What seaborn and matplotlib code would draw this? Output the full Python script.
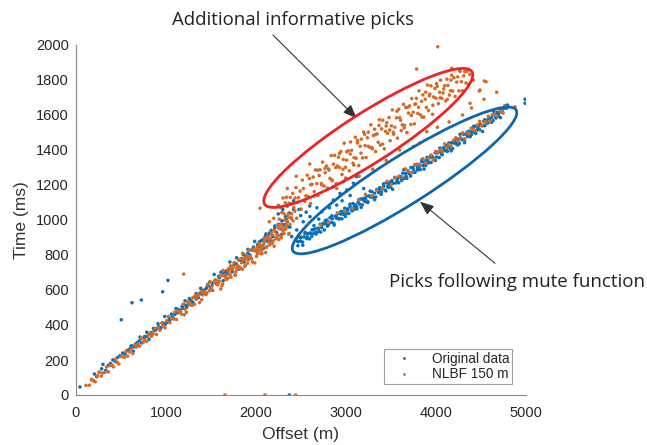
import numpy as np
import pandas as pd
import matplotlib
matplotlib.use("Agg")
import matplotlib.pyplot as plt
import seaborn as sns
from matplotlib.patches import Ellipse, FancyArrowPatch

# ---------------- data (offset m, time ms) ----------------
orig_trend = [
    (44, 46), (175, 86), (205, 120), (230, 105), (260, 130), (285, 150), (300, 175), (330, 140),
    (360, 170), (385, 180), (410, 200), (440, 190), (465, 215), (490, 225), (520, 240), (545, 235),
    (570, 255), (600, 265), (625, 280), (650, 275), (680, 300), (705, 310), (730, 300), (760, 325),
    (790, 335), (820, 350), (845, 345), (870, 370), (895, 380), (920, 390), (945, 385), (970, 410),
    (995, 405), (1020, 420), (1045, 430), (1070, 445), (1100, 460), (1130, 470), (1155, 485),
    (1180, 505), (1205, 515), (1230, 500), (1255, 525), (1280, 540), (1300, 530), (1325, 555),
    (1350, 565), (1375, 580), (1400, 575), (1425, 600), (1450, 610), (1470, 625), (1495, 615),
    (1520, 640), (1545, 655), (1570, 645), (1595, 670), (1620, 685), (1645, 695), (1665, 680),
    (1690, 710), (1710, 720), (1735, 715), (1755, 740), (1780, 750), (1800, 735), (1825, 770),
    (1850, 780), (1870, 760), (1890, 795), (1910, 810), (1935, 800), (1955, 830), (1975, 845),
    (2000, 825), (2020, 860), (2040, 875), (2060, 850), (2085, 890), (2105, 905), (2125, 880),
    (2150, 925), (2170, 940), (2190, 910), (2210, 955), (2230, 930), (2250, 975), (2270, 950),
    (2290, 995), (2310, 970), (2330, 1020), (2350, 990), (2370, 1040), (2395, 1010), (2420, 1060),
]
orig_trend_extra = [
    (612, 280), (637, 250), (662, 290), (687, 284), (712, 331), (737, 298), (762, 334), (787, 359),
    (812, 318), (837, 357), (862, 381), (887, 372), (912, 407), (937, 377), (962, 411), (987, 449),
    (1012, 416), (1037, 436), (1062, 462), (1087, 436), (1112, 494), (1137, 489), (1162, 475),
    (1187, 495), (1212, 538), (1237, 511), (1262, 551), (1287, 516), (1312, 558), (1337, 579),
    (1362, 556), (1387, 610), (1412, 595), (1437, 583), (1462, 627), (1487, 645), (1512, 623),
    (1537, 689), (1562, 635), (1587, 678), (1612, 702), (1637, 653), (1662, 707), (1687, 694),
    (1712, 760), (1737, 704), (1762, 754), (1787, 784), (1812, 719), (1837, 772), (1862, 803),
    (1887, 784), (1912, 832), (1937, 782), (1962, 828), (1987, 878), (2012, 823), (2037, 850),
    (2062, 882), (2087, 838), (2112, 920), (2137, 908), (2162, 882), (2187, 905), (2212, 966),
    (2237, 920), (2262, 974), (2287, 918), (2312, 974), (2337, 1002), (2362, 961), (2387, 1037),
]
orig_outliers = [
    (504, 430), (623, 527), (727, 543), (964, 590), (1023, 655), (2373, 0), (4995, 1690), (4995, 1667),
]
orig_between = [
    (2399, 905), (2455, 943), (2528, 990), (2603, 1019), (2640, 943), (2733, 1047), (2788, 1000),
    (2862, 1114), (2937, 1152), (3011, 1171), (3085, 1210), (3122, 1248), (2560, 1045), (2680, 1070),
    (2350, 1080), (2420, 1110), (2480, 1060), (2700, 1005), (2820, 1070), (2900, 1085), (2250, 1035),
    (2300, 1060), (2380, 960), (2500, 1025), (3050, 1140), (3200, 1180), (2960, 1110), (2600, 1080),
    (2862, 1190), (2973, 1219),
]
orig_mute = [
    (2455, 881), (2468, 853), (2482, 904), (2497, 879), (2506, 902), (2521, 874), (2538, 903),
    (2549, 929), (2566, 894), (2580, 922), (2598, 892), (2611, 924), (2625, 944), (2643, 922),
    (2656, 949), (2672, 920), (2689, 953), (2701, 934), (2717, 976), (2734, 956), (2748, 976),
    (2763, 943), (2779, 979), (2792, 995), (2808, 973), (2825, 1013), (2839, 986), (2852, 1007),
    (2868, 982), (2884, 1022), (2897, 1010), (2913, 1037), (2930, 1007), (2944, 1034), (2958, 1007),
    (2975, 1050), (2989, 1067), (3004, 1036), (3018, 1055), (3035, 1037), (3049, 1077), (3063, 1059),
    (3080, 1094), (3094, 1061), (3107, 1087), (3124, 1063), (3139, 1101), (3153, 1091), (3169, 1120),
    (3184, 1087), (3198, 1114), (3215, 1105), (3229, 1136), (3244, 1100), (3258, 1138), (3275, 1132),
    (3289, 1162), (3303, 1129), (3320, 1154), (3334, 1132), (3349, 1172), (3365, 1157), (3378, 1185),
    (3394, 1147), (3410, 1179), (3423, 1193), (3439, 1170), (3455, 1213), (3470, 1187), (3484, 1209),
    (3500, 1187), (3514, 1225), (3530, 1210), (3545, 1243), (3559, 1212), (3575, 1234), (3590, 1213),
    (3604, 1250), (3620, 1241), (3635, 1268), (3649, 1237), (3665, 1266), (3680, 1238), (3694, 1281),
    (3709, 1265), (3725, 1300), (3740, 1271), (3754, 1290), (3770, 1272), (3785, 1313), (3799, 1297),
    (3815, 1316), (3830, 1288), (3845, 1334), (3860, 1311), (3874, 1330), (3890, 1312), (3905, 1358),
    (3919, 1333), (3935, 1357), (3950, 1329), (3964, 1362), (3980, 1345), (3995, 1384), (4009, 1360),
    (4024, 1388), (4040, 1357), (4054, 1388), (4070, 1375), (4085, 1412), (4099, 1396), (4115, 1426),
    (4130, 1392), (4144, 1422), (4160, 1409), (4175, 1441), (4189, 1408), (4205, 1439), (4220, 1459),
    (4234, 1433), (4250, 1461), (4265, 1437), (4279, 1467), (4295, 1459), (4310, 1490), (4324, 1460),
    (4340, 1490), (4355, 1477), (4369, 1507), (4385, 1476), (4400, 1504), (4414, 1520), (4430, 1500),
    (4445, 1537), (4459, 1514), (4475, 1537), (4490, 1516), (4504, 1542), (4520, 1538), (4535, 1565),
    (4549, 1539), (4565, 1569), (4580, 1554), (4594, 1582), (4610, 1562), (4625, 1586), (4639, 1568),
    (4655, 1601), (4670, 1588), (4684, 1615), (4700, 1594), (4715, 1618), (4729, 1637), (4745, 1615),
    (4760, 1637), (4774, 1654), (4790, 1639), (4800, 1657),
]
orig_mute_extra = [
    (2472, 876), (2497, 898), (2522, 856), (2547, 922), (2572, 904), (2597, 925), (2622, 906),
    (2647, 968), (2672, 930), (2697, 951), (2722, 931), (2747, 980), (2772, 996), (2797, 965),
    (2822, 986), (2847, 1024), (2872, 971), (2897, 1020), (2922, 1006), (2947, 1049), (2972, 1033),
    (2997, 1020), (3022, 1064), (3047, 1090), (3072, 1052), (3097, 1078), (3122, 1075), (3147, 1117),
    (3172, 1072), (3197, 1123), (3222, 1120), (3247, 1104), (3272, 1165), (3297, 1134), (3322, 1116),
    (3347, 1174), (3372, 1174), (3397, 1160), (3422, 1207), (3447, 1166), (3472, 1196), (3497, 1218),
    (3522, 1176), (3547, 1242), (3572, 1224), (3597, 1245), (3622, 1226), (3647, 1288), (3672, 1250),
    (3697, 1271), (3722, 1251), (3747, 1300), (3772, 1316), (3797, 1285), (3822, 1306), (3847, 1344),
    (3872, 1291), (3897, 1340), (3922, 1326), (3947, 1369), (3972, 1353), (3997, 1340), (4022, 1384),
    (4047, 1411), (4072, 1373), (4097, 1400), (4122, 1397), (4147, 1440), (4172, 1395), (4197, 1447),
    (4222, 1444), (4247, 1429), (4272, 1490), (4297, 1460), (4322, 1442), (4347, 1501), (4372, 1501),
    (4397, 1488), (4422, 1535), (4447, 1495), (4472, 1525), (4497, 1548), (4522, 1506), (4547, 1573),
    (4572, 1555), (4597, 1577), (4622, 1558), (4647, 1621), (4672, 1583), (4697, 1605), (4722, 1585),
    (4747, 1635), (4772, 1651),
]

nlbf_trend = [
    (110, 55), (148, 56), (172, 89), (196, 82), (214, 76), (239, 110), (258, 130), (281, 108),
    (297, 126), (322, 129), (340, 160), (361, 132), (379, 168), (402, 171), (418, 161), (441, 206),
    (459, 187), (477, 177), (500, 220), (516, 221), (538, 215), (557, 249), (574, 222), (596, 246),
    (615, 263), (633, 237), (651, 284), (672, 274), (690, 291), (708, 280), (729, 324), (747, 301),
    (763, 316), (786, 306), (802, 341), (821, 354), (840, 335), (858, 351), (877, 379), (895, 346),
    (917, 383), (933, 370), (954, 411), (971, 395), (990, 384), (1008, 424), (1027, 449), (1044, 413),
    (1063, 437), (1081, 435), (1099, 474), (1118, 431), (1135, 479), (1156, 477), (1172, 462),
    (1190, 518), (1211, 490), (1228, 473), (1246, 527), (1263, 527), (1284, 514), (1301, 557),
    (1319, 518), (1338, 547), (1356, 567), (1374, 528), (1393, 590), (1410, 572), (1430, 592),
    (1447, 574), (1466, 633), (1484, 596), (1503, 617), (1521, 597), (1540, 644), (1557, 658),
    (1576, 629), (1594, 650), (1613, 685), (1631, 635),
    (1650, 683), (1668, 664), (1687, 715), (1705, 692), (1724, 673), (1741, 725), (1760, 756),
    (1779, 705), (1797, 735), (1815, 729), (1834, 780), (1852, 719), (1871, 782), (1888, 776),
    (1907, 752), (1925, 827), (1944, 784), (1962, 760), (1981, 830), (1999, 828), (2018, 807),
    (2036, 864), (2055, 808), (2073, 845), (2092, 869), (2110, 814), (2129, 896), (2147, 869),
    (2166, 893), (2184, 867), (2203, 943), (2221, 892), (2240, 916), (2258, 888), (2277, 948),
    (2295, 965), (2314, 923), (2332, 948), (2351, 993), (2370, 923),
]
nlbf_trend_extra = [
    (1205, 458), (1238, 536), (1270, 517), (1296, 514), (1327, 568), (1362, 575), (1398, 544),
    (1421, 583), (1455, 583), (1492, 647), (1515, 600), (1548, 642), (1583, 641), (1605, 679),
    (1622, 624), (1641, 684), (1659, 677), (1677, 660), (1696, 721), (1714, 686), (1732, 717),
    (1750, 733), (1769, 687), (1788, 723), (1806, 771), (1824, 723), (1843, 756), (1861, 775),
    (1879, 736), (1897, 800), (1916, 771), (1934, 790), (1953, 778), (1971, 835), (1990, 824),
    (2008, 792), (2027, 823), (2046, 856), (2064, 827), (2083, 857), (2100, 880), (2118, 845),
    (2137, 905), (2156, 858), (2175, 925), (2193, 880), (2212, 935), (2232, 898), (2250, 955),
    (2268, 910), (2287, 975), (2305, 938), (2322, 1000), (2341, 960), (2360, 1015), (2380, 975),
    (2398, 1035), (2415, 995), (2435, 1050), (2455, 1010),
    (1610, 606), (1637, 712), (1664, 677), (1691, 667), (1718, 738), (1745, 737), (1772, 684),
    (1799, 739), (1826, 729), (1853, 810), (1880, 738), (1907, 791), (1934, 781), (1961, 834),
    (1988, 755), (2015, 842), (2042, 832), (2069, 808), (2096, 895), (2123, 847), (2150, 892),
    (2177, 915), (2204, 850), (2231, 900), (2258, 971), (2285, 900), (2312, 948), (2339, 975),
    (2366, 919), (2393, 1013),
]
nlbf_upper = [
    (2250, 1084), (2261, 1005), (2277, 1071), (2289, 1043), (2303, 1126), (2313, 1037), (2328, 1098),
    (2341, 1130), (2358, 1032), (2370, 1096), (2384, 1129), (2395, 1093), (2411, 1152), (2423, 1071),
    (2437, 1126), (2447, 1185), (2462, 1101), (2475, 1128), (2492, 1165), (2504, 1062), (2518, 1228),
    (2529, 1180), (2545, 1106), (2557, 1138), (2571, 1256), (2581, 1135), (2596, 1237), (2609, 1094),
    (2626, 1204), (2638, 1245), (2652, 1138), (2663, 1286), (2679, 1208), (2691, 1141), (2705, 1254),
    (2715, 1287), (2730, 1201), (2743, 1331), (2760, 1194), (2772, 1271), (2786, 1309), (2797, 1182),
    (2813, 1285), (2825, 1238), (2839, 1368), (2849, 1225), (2864, 1319), (2877, 1369), (2894, 1208),
    (2906, 1309), (2920, 1359), (2931, 1300), (2947, 1391), (2959, 1260), (2973, 1346), (2983, 1439),
    (2998, 1301), (3011, 1342), (3028, 1396), (3040, 1281), (3054, 1446), (3065, 1398), (3081, 1324),
    (3093, 1356), (3107, 1473), (3117, 1353), (3132, 1454), (3145, 1311), (3162, 1421), (3174, 1462),
    (3188, 1355), (3199, 1503), (3215, 1425), (3227, 1357), (3241, 1470), (3251, 1502), (3266, 1416),
    (3279, 1544), (3296, 1407), (3308, 1483), (3322, 1519), (3333, 1391), (3349, 1492), (3361, 1444),
    (3375, 1573), (3385, 1428), (3400, 1521), (3413, 1570), (3430, 1407), (3442, 1507), (3456, 1556),
    (3467, 1496), (3483, 1585), (3495, 1453), (3509, 1538), (3519, 1629), (3534, 1490), (3547, 1530),
    (3564, 1584), (3576, 1468), (3590, 1633), (3601, 1584), (3617, 1511), (3629, 1544), (3643, 1661),
    (3653, 1541), (3668, 1643), (3681, 1500), (3698, 1611), (3710, 1652), (3724, 1546), (3735, 1694),
    (3751, 1616), (3763, 1549), (3777, 1663), (3787, 1695), (3802, 1609), (3815, 1738), (3832, 1601),
    (3844, 1678), (3858, 1715), (3869, 1588), (3885, 1690), (3897, 1643), (3911, 1771), (3921, 1626),
    (3936, 1719), (3949, 1767), (3966, 1604), (3978, 1703), (3992, 1752), (4003, 1696), (4019, 1764),
    (4031, 1665), (4045, 1730), (4055, 1799), (4070, 1695), (4083, 1726), (4100, 1767), (4112, 1681),
    (4126, 1805), (4137, 1769), (4153, 1714), (4165, 1739), (4179, 1827), (4189, 1737), (4204, 1813),
    (4217, 1706), (4234, 1788), (4246, 1818), (4260, 1738), (4271, 1849), (4287, 1790), (4299, 1739),
    (4313, 1824), (4323, 1848), (4338, 1783), (4351, 1850), (4368, 1775), (4380, 1832),
]
nlbf_upper_extra = [
    (2610, 1201), (2650, 1162), (2690, 1285), (2730, 1209), (2770, 1295), (2810, 1292), (2850, 1228),
    (2890, 1299), (2930, 1380), (2970, 1289), (3010, 1390), (3050, 1377), (3090, 1314), (3130, 1440),
    (3170, 1382), (3210, 1490), (3250, 1421), (3290, 1414), (3330, 1488), (3370, 1540), (3410, 1434),
    (3450, 1537), (3490, 1514), (3530, 1501), (3570, 1622), (3610, 1570), (3650, 1526), (3690, 1644),
    (3730, 1597), (3770, 1661), (3810, 1644), (3850, 1588), (3890, 1730), (3930, 1710), (3970, 1656),
    (4010, 1779), (4050, 1698), (4090, 1749), (4130, 1689), (4170, 1800),
]
nlbf_mute = [
    (2720, 972), (2810, 987), (2905, 1041), (2990, 1052), (3075, 1065), (3150, 1113), (3220, 1147),
    (3290, 1139), (3350, 1170), (3410, 1182), (3460, 1221), (3505, 1200), (3550, 1243), (3590, 1249),
    (3630, 1246), (3665, 1292), (3700, 1277), (3735, 1271), (3770, 1315), (3800, 1320), (3830, 1314),
    (3860, 1350), (3890, 1326), (3920, 1351), (3950, 1370), (3975, 1345), (4000, 1392), (4025, 1383),
    (4050, 1400), (4075, 1391), (4100, 1435), (4125, 1413), (4150, 1430), (4175, 1420), (4200, 1456),
    (4225, 1470), (4250, 1452), (4275, 1470), (4300, 1498), (4320, 1464), (4345, 1499), (4370, 1494),
    (4395, 1525), (4420, 1518), (4440, 1511), (4465, 1543), (4490, 1564), (4510, 1539), (4535, 1560),
    (4560, 1561), (4585, 1593), (4605, 1564), (4630, 1601), (4655, 1603), (4680, 1595), (4700, 1637),
    (4725, 1620), (4750, 1611), (4770, 1651),
]
nlbf_strays = [
    (2047, 1067), (3752, 1420), (3901, 1505), (3826, 1440), (4020, 1530), (4150, 1560), (3600, 1400),
    (3450, 1340), (3300, 1290), (3150, 1250), (4300, 1600), (4400, 1640), (4383, 1667), (4486, 1737),
    (4538, 1690), (4561, 1790), (4680, 1730), (4883, 1647), (4542, 1794), (4494, 1743), (4179, 1867),
    (4271, 1857), (3789, 1863), (4023, 1990), (1198, 691), (1657, 0), (2102, 0), (2444, 0),
    (2600, 1320), (2450, 1250), (2350, 1180), (2200, 1010), (2150, 990), (2900, 1180), (3000, 1240),
    (4420, 1800),
]

series_names = ["Original data", "NLBF 150 m"]
series_colors = ["#0A70BA", "#D76A27"]
annotation_top = "Additional informative picks"
annotation_bottom = "Picks following mute function"

orig_pts = orig_trend + orig_trend_extra + orig_outliers + orig_between + orig_mute + orig_mute_extra
nlbf_pts = nlbf_trend + nlbf_trend_extra + nlbf_upper + nlbf_upper_extra + nlbf_mute + nlbf_strays

df = pd.DataFrame(
    [(x, t, series_names[0]) for x, t in orig_pts] + [(x, t, series_names[1]) for x, t in nlbf_pts],
    columns=["Offset", "Time", "Series"],
)

# ---------------- style ----------------
sns.set_theme(style="white")
plt.rcParams["font.family"] = ["Liberation Sans", "DejaVu Sans"]

W, H, DPI = 647, 445, 100
fig = plt.figure(figsize=(W / DPI, H / DPI), dpi=DPI)
ax = fig.add_axes([76 / W, 1 - 395 / H, 449.5 / W, 350 / H])

sns.scatterplot(
    data=df, x="Offset", y="Time", hue="Series", hue_order=series_names,
    palette=series_colors, s=6.5, linewidth=0, ax=ax, legend=True,
)

ax.set_xlim(0, 5000)
ax.set_ylim(0, 2000)
ax.set_xticks(np.arange(0, 5001, 1000))
ax.set_yticks(np.arange(0, 2001, 200))
ax.set_xlabel("Offset (m)", fontsize=12.5, color="#333333", labelpad=5)
ax.set_ylabel("Time (ms)", fontsize=12.5, color="#333333", labelpad=5)
for s in ["top", "right"]:
    ax.spines[s].set_visible(False)
for s in ["left", "bottom"]:
    ax.spines[s].set_color("#8a8a8a")
    ax.spines[s].set_linewidth(0.8)
ax.tick_params(direction="in", length=3.5, width=0.8, color="#8a8a8a",
               labelsize=10.5, labelcolor="#262626", pad=5)
ax.tick_params(axis="x", pad=8)

leg = ax.legend(loc="lower left", bbox_to_anchor=(0.685, 0.031), borderaxespad=0, frameon=True,
                fancybox=False, fontsize=9.8, markerscale=0.8, handletextpad=0.8, borderpad=0.2,
                labelspacing=0.1, handlelength=2.5)
leg.get_frame().set_edgecolor("#8a8a8a")
leg.get_frame().set_linewidth(0.8)
for t in leg.get_texts():
    t.set_color("#262626")

# ---------------- ellipses (centre in data, axes in pixels) ----------------
def draw_ellipse(center, a_px, b_px, angle, color):
    cx, cy = ax.transData.transform(center)
    e = Ellipse((cx / DPI, cy / DPI), 2 * a_px / DPI, 2 * b_px / DPI, angle=angle,
                transform=fig.dpi_scale_trans, fill=False, edgecolor=color, linewidth=2.0,
                clip_on=False, zorder=5)
    fig.add_artist(e)

draw_ellipse((3251, 1469), 123, 25, 32.6, "#EE2424")
draw_ellipse((3654, 1226), 132, 24, 32.3, "#0F66AE")

# ---------------- annotations ----------------
ann_font = ["Open Sans", "DejaVu Sans"]
fig.text(293.5 / W, 1 - 25 / H, annotation_top, ha="center", va="baseline",
         fontsize=13.4, family=ann_font, color="#222222")
fig.text(517 / W, 1 - 286.7 / H, annotation_bottom, ha="center", va="baseline",
         fontsize=13.5, family=ann_font, color="#222222")

arrow_kw = dict(arrowstyle="-|>,head_length=0.7,head_width=0.28", color="#333333", lw=0.8,
                shrinkA=0, shrinkB=0)
fig.add_artist(FancyArrowPatch((273, H - 35), (356.7, H - 118.3),
                               transform=None, mutation_scale=12, **arrow_kw))
fig.add_artist(FancyArrowPatch((495, H - 263.3), (420, H - 201.7),
                               transform=None, mutation_scale=12, **arrow_kw))

fig.savefig("out.png", dpi=DPI)
